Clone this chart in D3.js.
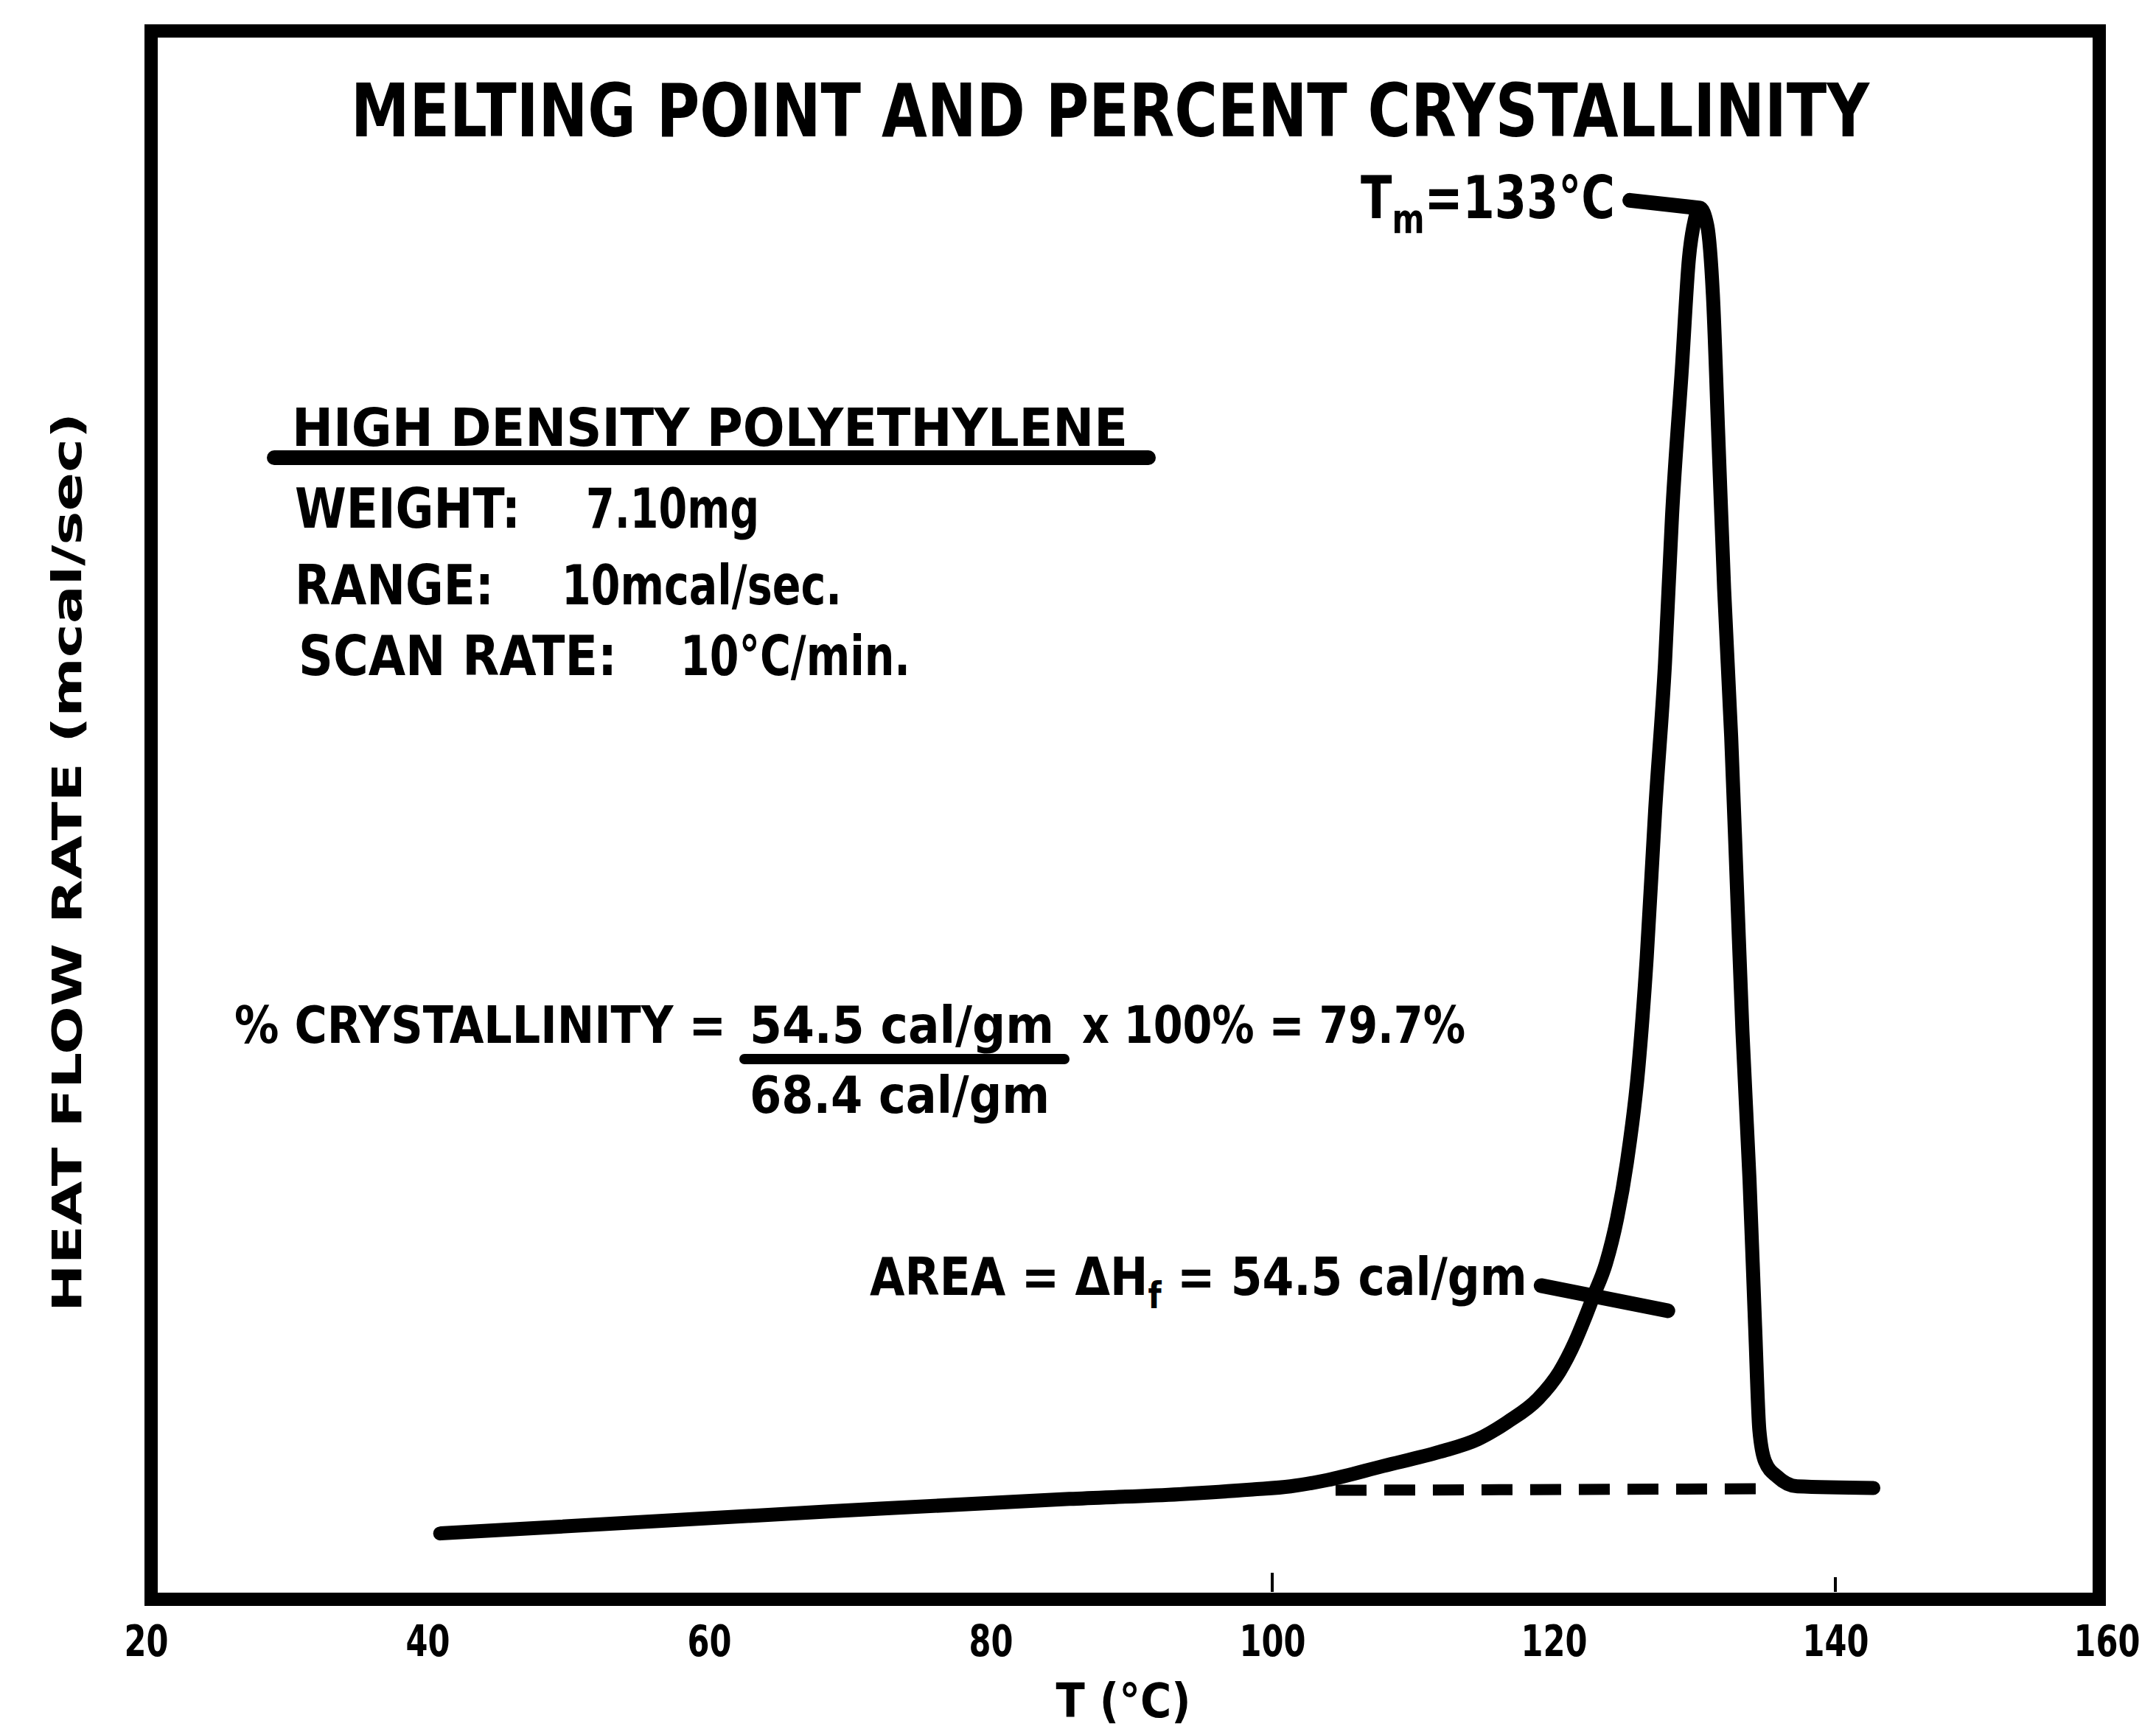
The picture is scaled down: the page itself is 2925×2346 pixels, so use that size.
<!DOCTYPE html>
<html>
  <head>
    <!--load d3-->
    <script src="https://d3js.org/d3.v7.min.js"></script>
  </head>
  <style>
    body {
      margin: 0;
      background: white;
    }
    svg text {
      font-family: "DejaVu Sans Condensed", "DejaVu Sans", sans-serif;
      font-weight: bold;
      fill: black;
    }
  </style>
  <body>
    <svg width="2925" height="2346"></svg>
    <script>
      // DSC trace (T in degC, heat flow in mcal/sec, 10 mcal/sec full scale)
      var tempC = [
        40.9, 68.5, 85.6, 93.4, 98.6, 101.3, 103.9, 107.9, 111.9, 114.6,
        116.7, 118.9, 120.4, 121.5, 122.2, 122.8, 123.7, 124.5, 125.2, 126.0,
        126.6, 127.2, 127.9, 128.4, 129.1, 129.6, 130.0, 130.4, 130.9, 131.3,
        131.7, 132.1, 132.6, 133.0, 133.4, 133.9, 134.3, 134.6, 135.0, 135.9,
        137.3, 142.7,
      ];
      var heatFlow = [
        0.42, 0.56, 0.64, 0.67, 0.7, 0.72, 0.76, 0.85, 0.94, 1.02,
        1.13, 1.28, 1.45, 1.64, 1.79, 1.93, 2.14, 2.43, 2.79, 3.38,
        4.09, 5.03, 5.97, 6.91, 7.85, 8.55, 8.79, 8.87, 8.76, 8.32,
        7.38, 6.44, 5.5, 4.56, 3.62, 2.68, 1.74, 1.08, 0.88, 0.78,
        0.72, 0.71,
      ];

      // extrapolated baseline (dashed)
      var baselineT = [104.5, 135.3];
      var baselineFlow = [0.695, 0.705];

      // leader lines
      var tmLeaderT = [125.4, 130.4];
      var tmLeaderFlow = [8.92, 8.87];
      var areaLeaderT = [119.1, 128.1];
      var areaLeaderFlow = [2.0, 1.84];

      // axis
      var xTicks = [20, 40, 60, 80, 100, 120, 140, 160];
      var xTickLabels = ["20", "40", "60", "80", "100", "120", "140", "160"];
      var innerTicks = [100, 140];

      var svg = d3.select("svg");

      var x = d3.scaleLinear().domain([20, 160]).range([198, 2872]);
      var y = d3.scaleLinear().domain([0, 10]).range([2170, 42]);

      // frame
      svg
        .append("rect")
        .attr("x", 205)
        .attr("y", 42)
        .attr("width", 2643)
        .attr("height", 2128)
        .style("fill", "none")
        .style("stroke", "black")
        .style("stroke-width", 18);

      // x axis labels
      var xAxis = svg
        .append("g")
        .attr("transform", "translate(0,2170)")
        .call(
          d3
            .axisBottom(x)
            .tickValues(xTicks)
            .tickSize(0)
            .tickPadding(36)
            .tickFormat(function (d, i) {
              return xTickLabels[i];
            })
        );
      xAxis.select(".domain").remove();
      xAxis
        .selectAll("text")
        .attr("textLength", function (d, i) {
          return xTickLabels[i].length * 30;
        })
        .attr("lengthAdjust", "spacingAndGlyphs")
        .attr("dx", function (d, i) {
          return i == xTicks.length - 1 ? -14 : 0;
        })
        .style("font-size", "58px")
        .style("font-family", "DejaVu Sans Condensed")
        .style("font-weight", "bold");

      // little inner ticks
      svg
        .append("g")
        .selectAll("line")
        .data(innerTicks)
        .enter()
        .append("line")
        .attr("x1", function (d) {
          return x(d);
        })
        .attr("x2", function (d) {
          return x(d);
        })
        .attr("y1", 2160)
        .attr("y2", function (d, i) {
          return i == 0 ? 2134 : 2140;
        })
        .style("stroke", "black")
        .style("stroke-width", 4);

      // axis titles
      svg
        .append("text")
        .attr("x", 1524)
        .attr("y", 2330)
        .attr("text-anchor", "middle")
        .style("font-size", "64px")
        .text("T (°C)");

      svg
        .append("text")
        .attr("transform", "translate(110,1170)rotate(-90)")
        .attr("text-anchor", "middle")
        .attr("textLength", 1220)
        .attr("lengthAdjust", "spacingAndGlyphs")
        .style("font-size", "56px")
        .text("HEAT FLOW RATE (mcal/sec)");

      // title
      svg
        .append("text")
        .attr("x", 476)
        .attr("y", 185)
        .attr("textLength", 2060)
        .attr("lengthAdjust", "spacingAndGlyphs")
        .style("font-size", "100px")
        .text("MELTING POINT AND PERCENT CRYSTALLINITY");

      // dashed baseline
      var line = d3
        .line()
        .x(function (d) {
          return x(d[0]);
        })
        .y(function (d) {
          return y(d[1]);
        });

      svg
        .append("path")
        .datum(d3.zip(baselineT, baselineFlow))
        .attr("d", line)
        .style("fill", "none")
        .style("stroke", "black")
        .style("stroke-width", 15)
        .style("stroke-dasharray", "42 24");

      // DSC curve
      var curve = d3
        .line()
        .x(function (d) {
          return x(d[0]);
        })
        .y(function (d) {
          return y(d[1]);
        })
        .curve(d3.curveMonotoneX);

      svg
        .append("path")
        .datum(d3.zip(tempC, heatFlow))
        .attr("d", curve)
        .style("fill", "none")
        .style("stroke", "black")
        .style("stroke-width", 19)
        .style("stroke-linejoin", "round")
        .style("stroke-linecap", "round");

      // leaders
      [
        [tmLeaderT, tmLeaderFlow],
        [areaLeaderT, areaLeaderFlow],
      ].forEach(function (l) {
        svg
          .append("path")
          .datum(d3.zip(l[0], l[1]))
          .attr("d", line)
          .style("fill", "none")
          .style("stroke", "black")
          .style("stroke-width", 20)
          .style("stroke-linecap", "round");
      });

      // helper for plain text pieces: [text, x, y, width, size]
      function label(t) {
        var el = svg
          .append("text")
          .attr("x", t[1])
          .attr("y", t[2])
          .style("font-size", t[4] + "px")
          .text(t[0]);
        if (t[3]) {
          el.attr("textLength", t[3]).attr("lengthAdjust", "spacingAndGlyphs");
        }
        return el;
      }

      // text with a subscript, squeezed sideways to a given width
      function subLabel(x0, y0, width, size, main, sub, rest) {
        var g = svg.append("g");
        var t = g.append("text").style("font-size", size + "px");
        t.append("tspan").text(main);
        t.append("tspan")
          .attr("dy", size * 0.25)
          .style("font-size", size * 0.68 + "px")
          .text(sub);
        t.append("tspan")
          .attr("dy", -size * 0.25)
          .text(rest);
        var w = t.node().getComputedTextLength();
        g.attr(
          "transform",
          "translate(" + x0 + "," + y0 + ") scale(" + width / w + ",1)"
        );
      }

      // Tm label
      subLabel(1846, 296, 345, 80, "T", "m", "=133°C");

      // sample info
      label(["HIGH DENSITY POLYETHYLENE", 396, 605, 1134, 72]);

      svg
        .append("line")
        .attr("x1", 372)
        .attr("x2", 1558)
        .attr("y1", 621)
        .attr("y2", 621)
        .style("stroke", "black")
        .style("stroke-width", 20)
        .style("stroke-linecap", "round");

      [
        ["WEIGHT:", 400, 716, 306, 74],
        ["7.10mg", 795, 716, 235, 74],
        ["RANGE:", 400, 820, 270, 74],
        ["10mcal/sec.", 762, 820, 380, 74],
        ["SCAN RATE:", 405, 916, 432, 74],
        ["10°C/min.", 923, 916, 312, 74],
      ].forEach(label);

      // crystallinity formula
      [
        ["% CRYSTALLINITY =", 318, 1415, 667, 70],
        ["54.5 cal/gm", 1017, 1415, 413, 70],
        ["x 100% = 79.7%", 1468, 1415, 520, 70],
        ["68.4 cal/gm", 1017, 1510, 407, 70],
      ].forEach(label);

      svg
        .append("line")
        .attr("x1", 1010)
        .attr("x2", 1444)
        .attr("y1", 1437)
        .attr("y2", 1437)
        .style("stroke", "black")
        .style("stroke-width", 14)
        .style("stroke-linecap", "round");

      // area label
      subLabel(1180, 1757, 892, 72, "AREA = ΔH", "f", "  = 54.5 cal/gm");
    </script>
  </body>
</html>
